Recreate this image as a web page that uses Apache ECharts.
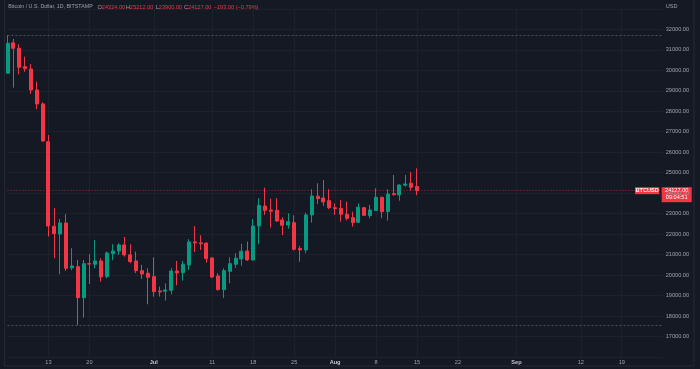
<!DOCTYPE html>
<html><head><meta charset="utf-8">
<script src="https://cdn.jsdelivr.net/npm/echarts@6/dist/echarts.min.js"></script>
<style>html,body{margin:0;padding:0;background:#151924;}#c{width:700px;height:369px;}</style>
</head><body><div id="c"></div>
<script>
// ---- data ----
const startDate = '2022-06-06';
const dayCount = 113;
const tickDates = ['2022-06-13','2022-06-20','2022-07-01','2022-07-11','2022-07-18','2022-07-25','2022-08-01','2022-08-08','2022-08-15','2022-08-22','2022-09-01','2022-09-12','2022-09-19'];
const tickLabels = ['13','20','Jul','11','18','25','Aug','8','15','22','Sep','12','19'];
const monthLabels = ['Jul','Aug','Sep'];

const opens  = [29853,31340,31073,30175,30063,29038,28355,26515,22387,22011,22548,20353,20415,18902,20560,20530,20693,19928,21050,21180,21474,20990,20693,20219,20093,19928,19230,19213,19262,20203,20125,20497,21620,21580,21557,20840,19961,19294,20187,20532,20792,21180,20742,22401,23377,23182,23167,22694,22450,22563,21296,21230,22938,23849,23768,23636,23294,23262,22970,22807,22580,23294,22905,23150,23800,23099,23979,23914,24387,24485,24324];
const closes = [31317,31073,30146,30077,29038,28355,26549,22401,22026,22548,20337,20451,18902,20561,20540,20693,19912,21083,21180,21474,20986,20660,20219,20058,19898,19196,19180,19278,20203,20107,20530,21620,21575,21530,20808,19912,19294,20219,20561,20825,21166,20742,22401,23411,23167,23118,22645,22435,22612,21263,21230,22938,23865,23733,23572,23294,23245,22970,22775,22563,23312,22921,23182,23800,23099,23963,23930,24402,24451,24290,24127];
const lows   = [29830,29150,29800,29930,28840,28096,26500,21879,20825,20044,20205,20239,17570,17926,19570,20337,19683,19847,20727,20986,20903,20580,20100,19815,18580,18951,18951,18756,19068,19507,19732,20254,21132,21230,20613,19847,19245,18887,19603,20366,20464,20700,20700,21508,22938,22320,22600,21947,22270,21200,20660,21069,22563,23460,23377,23216,22938,22612,22670,22368,22540,22880,22775,23130,22775,22660,23880,23636,24320,24124,23900];
const highs  = [31720,31530,31270,30660,30307,29443,28437,26842,23265,22743,22972,21313,20742,20742,21020,21717,20825,21147,21508,21557,21864,21508,21150,20500,20337,20874,19440,19603,20337,20693,20693,21752,22401,21947,21620,20874,20093,20337,20874,21069,21524,21636,22743,23752,24270,23733,23752,22826,23021,22923,21425,23050,24192,24485,24646,24192,23508,23670,23587,23099,23508,23330,23426,24241,23830,24192,24890,24420,24890,25036,25212];

const symbolName = 'BTCUSD';
const headerTitle = 'Bitcoin / U.S. Dollar, 1D, BITSTAMP';
const lastChange = -193.00;
const lastChangePct = -0.79;
const countdown = '09:04:51';
const yMin = 16000, yMax = 33000, yStep = 1000;

// ---- build ----
const categories = [];
const d0 = new Date(startDate + 'T00:00:00Z');
for (let i = 0; i < dayCount; i++) {
  categories.push(new Date(d0.getTime() + i * 86400000).toISOString().slice(0, 10));
}
const candles = opens.map((o, i) => [o, closes[i], lows[i], highs[i]]);
const n = opens.length;
const lastO = opens[n-1], lastH = highs[n-1], lastL = lows[n-1], lastC = closes[n-1];

const UP = '#089981', DOWN = '#f23645';
const TXT = '#9ea2ab';
const FONT = '"Liberation Sans", Arial, sans-serif';
const FS = 5.6;

const chart = echarts.init(document.getElementById('c'), null, {renderer: 'canvas'});

const option = {
  backgroundColor: '#151924',
  animation: false,
  grid: { left: 7.5, right: 700 - (7.5 + (dayCount - 1) * 5.85), top: 8.8, bottom: 11.9, containLabel: false },
  xAxis: {
    type: 'category',
    data: categories,
    boundaryGap: false,
    axisLine: { show: false },
    axisTick: { show: false },
    axisLabel: {
      interval: (idx, val) => tickDates.includes(val),
      formatter: (val) => {
        const k = tickDates.indexOf(val);
        if (k < 0) return '';
        const t = tickLabels[k];
        return monthLabels.includes(t) ? '{m|' + t + '}' : t;
      },
      color: TXT, fontSize: FS, fontFamily: FONT, margin: 2,
      rich: { m: { color: '#c3c6ce', fontSize: FS, fontWeight: 'bold', fontFamily: FONT } }
    },
    splitLine: { show: true, interval: (idx, val) => tickDates.includes(val), lineStyle: { color: '#1d212c', width: 1 } }
  },
  yAxis: {
    type: 'value',
    position: 'right',
    min: yMin, max: yMax, interval: yStep,
    axisLine: { show: false },
    axisTick: { show: false },
    axisLabel: {
      showMinLabel: false, showMaxLabel: false,
      formatter: v => v.toFixed(2),
      color: TXT, fontSize: FS, fontFamily: FONT, margin: 3
    },
    splitLine: { lineStyle: { color: '#1d212c', width: 1 } }
  },
  series: [{
    type: 'candlestick',
    data: candles,
    barWidth: 3.5,
    clip: false,
    itemStyle: { color: UP, color0: DOWN, borderColor: UP, borderColor0: DOWN, borderWidth: 1 },
    markLine: {
      silent: true, symbol: 'none', animation: false,
      label: { show: false },
      data: [
        { yAxis: Math.max(...highs), lineStyle: { color: '#5a5e6a', type: [2, 2], width: 1, opacity: 0.8 } },
        { yAxis: Math.min(...lows), lineStyle: { color: '#5a5e6a', type: [2, 2], width: 1, opacity: 0.8 } },
        { yAxis: lastC, lineStyle: { color: DOWN, type: [1, 2], width: 1, opacity: 0.6 } }
      ]
    }
  }]
};
chart.setOption(option);

const py = chart.convertToPixel({ yAxisIndex: 0 }, lastC);
const f2 = v => v.toFixed(2);
const sgn = v => (v < 0 ? '\u2212' : '+') + Math.abs(v).toFixed(2);
const richHL = { g: { fill: TXT, fontSize: FS, fontFamily: FONT }, r: { fill: DOWN, fontSize: FS, fontFamily: FONT } };

chart.setOption({
  graphic: [
    { type: 'line', shape: { x1: 4.6, y1: 0, x2: 4.6, y2: 366 }, style: { stroke: '#262a35', lineWidth: 1 }, silent: true },
    { type: 'line', shape: { x1: 4.6, y1: 366, x2: 694, y2: 366 }, style: { stroke: '#262a35', lineWidth: 1 }, silent: true },
    { type: 'line', shape: { x1: 694, y1: 0, x2: 694, y2: 366 }, style: { stroke: '#262a35', lineWidth: 1 }, silent: true },
    { type: 'text', left: 8.3, top: 4, style: { text: headerTitle, fill: TXT, font: '5.3px ' + FONT } },
    { type: 'text', left: 97.5, top: 4, style: { text: '{g|O}{r|' + f2(lastO) + '}', rich: richHL } },
    { type: 'text', left: 126, top: 4, style: { text: '{g|H}{r|' + f2(lastH) + '}', rich: richHL } },
    { type: 'text', left: 155.7, top: 4, style: { text: '{g|L}{r|' + f2(lastL) + '}', rich: richHL } },
    { type: 'text', left: 184, top: 4, style: { text: '{g|C}{r|' + f2(lastC) + '}', rich: richHL } },
    { type: 'text', left: 213.7, top: 4, style: { text: sgn(lastChange) + ' (' + sgn(lastChangePct) + '%)', fill: DOWN, font: FS + 'px ' + FONT } },
    { type: 'text', left: 665.7, top: 3.5, style: { text: 'USD', fill: TXT, font: FS + 'px ' + FONT } },
    { type: 'rect', shape: { x: 635, y: py - 3.4, width: 24.3, height: 7 }, style: { fill: DOWN }, silent: true },
    { type: 'text', x: 647.2, y: py + 0.1, style: { text: symbolName, fill: '#ffffff', font: 'bold ' + FS + 'px ' + FONT, align: 'center', verticalAlign: 'middle' } },
    { type: 'rect', shape: { x: 661.7, y: py - 3.4, width: 30, height: 15 }, style: { fill: DOWN }, silent: true },
    { type: 'text', x: 676.7, y: py + 0.2, style: { text: f2(lastC), fill: '#ffffff', font: FS + 'px ' + FONT, align: 'center', verticalAlign: 'middle' } },
    { type: 'text', x: 676.7, y: py + 7.2, style: { text: countdown, fill: '#ffffff', font: FS + 'px ' + FONT, align: 'center', verticalAlign: 'middle' } }
  ]
});
</script>
</body></html>
